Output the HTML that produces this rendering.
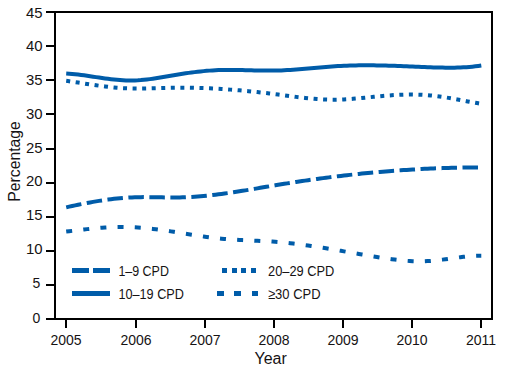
<!DOCTYPE html>
<html><head><meta charset="utf-8"><style>
html,body{margin:0;padding:0;background:#fff;width:515px;height:369px;overflow:hidden}
svg{display:block}
text{font-family:"Liberation Sans",sans-serif;font-size:14px;fill:#161314}
</style></head><body>
<svg width="515" height="369" viewBox="0 0 515 369">
<path d="M55,12 H492 V319 H46 M55,12 V319" stroke="#000" stroke-width="2" fill="none"/><path d="M46,12.00 H55" stroke="#000" stroke-width="2"/><path d="M46,46.00 H55" stroke="#000" stroke-width="2"/><path d="M46,80.00 H55" stroke="#000" stroke-width="2"/><path d="M46,114.00 H55" stroke="#000" stroke-width="2"/><path d="M46,149.00 H55" stroke="#000" stroke-width="2"/><path d="M46,183.00 H55" stroke="#000" stroke-width="2"/><path d="M46,217.00 H55" stroke="#000" stroke-width="2"/><path d="M46,251.00 H55" stroke="#000" stroke-width="2"/><path d="M46,285.00 H55" stroke="#000" stroke-width="2"/><path d="M66.00,319 V328" stroke="#000" stroke-width="2"/><path d="M136.00,319 V328" stroke="#000" stroke-width="2"/><path d="M205.00,319 V328" stroke="#000" stroke-width="2"/><path d="M274.00,319 V328" stroke="#000" stroke-width="2"/><path d="M343.00,319 V328" stroke="#000" stroke-width="2"/><path d="M412.00,319 V328" stroke="#000" stroke-width="2"/><path d="M481.00,319 V328" stroke="#000" stroke-width="2"/>

<path d="M66.20,73.47 L69.19,73.67 L72.17,73.93 L75.16,74.24 L78.15,74.58 L81.13,74.95 L84.12,75.35 L87.10,75.78 L90.09,76.21 L93.08,76.66 L96.06,77.11 L99.05,77.55 L102.04,77.99 L105.02,78.41 L108.01,78.81 L110.99,79.18 L113.98,79.52 L116.97,79.82 L119.95,80.08 L122.94,80.28 L125.93,80.43 L128.91,80.51 L131.90,80.52 L134.89,80.46 L137.87,80.32 L140.86,80.11 L143.84,79.83 L146.83,79.49 L149.82,79.11 L152.80,78.68 L155.79,78.21 L158.78,77.72 L161.76,77.22 L164.75,76.70 L167.74,76.18 L170.72,75.66 L173.71,75.16 L176.69,74.67 L179.68,74.20 L182.67,73.74 L185.65,73.30 L188.64,72.88 L191.63,72.48 L194.61,72.11 L197.60,71.75 L200.58,71.43 L203.57,71.13 L206.56,70.86 L209.54,70.62 L212.53,70.41 L215.52,70.24 L218.50,70.10 L221.49,70.00 L224.48,69.93 L227.46,69.90 L230.45,69.89 L233.43,69.91 L236.42,69.95 L239.41,70.00 L242.39,70.07 L245.38,70.14 L248.37,70.22 L251.35,70.31 L254.34,70.39 L257.33,70.46 L260.31,70.53 L263.30,70.58 L266.28,70.61 L269.27,70.62 L272.26,70.61 L275.24,70.57 L278.23,70.50 L281.22,70.39 L284.20,70.27 L287.19,70.11 L290.17,69.94 L293.16,69.74 L296.15,69.53 L299.13,69.30 L302.12,69.06 L305.11,68.81 L308.09,68.55 L311.08,68.29 L314.07,68.03 L317.05,67.76 L320.04,67.50 L323.02,67.24 L326.01,66.99 L329.00,66.75 L331.98,66.52 L334.97,66.31 L337.96,66.11 L340.94,65.94 L343.93,65.78 L346.92,65.65 L349.90,65.54 L352.89,65.45 L355.87,65.38 L358.86,65.33 L361.85,65.30 L364.83,65.29 L367.82,65.29 L370.81,65.30 L373.79,65.33 L376.78,65.38 L379.76,65.43 L382.75,65.50 L385.74,65.58 L388.72,65.66 L391.71,65.76 L394.70,65.86 L397.68,65.96 L400.67,66.08 L403.66,66.19 L406.64,66.31 L409.63,66.44 L412.61,66.56 L415.60,66.68 L418.59,66.81 L421.57,66.93 L424.56,67.05 L427.55,67.16 L430.53,67.27 L433.52,67.38 L436.51,67.47 L439.49,67.55 L442.48,67.62 L445.46,67.66 L448.45,67.69 L451.44,67.68 L454.42,67.65 L457.41,67.59 L460.40,67.49 L463.38,67.34 L466.37,67.16 L469.35,66.93 L472.34,66.65 L475.33,66.32 L478.31,65.93 L481.30,65.49" stroke="#005ca9" stroke-width="4.0" fill="none"/>
<path d="M66.20,80.84 L69.19,81.26 L72.17,81.70 L75.16,82.15 L78.15,82.60 L81.13,83.06 L84.12,83.52 L87.10,83.97 L90.09,84.42 L93.08,84.85 L96.06,85.28 L99.05,85.70 L102.04,86.09 L105.02,86.47 L108.01,86.82 L110.99,87.15 L113.98,87.45 L116.97,87.71 L119.95,87.95 L122.94,88.15 L125.93,88.30 L128.91,88.42 L131.90,88.50 L134.89,88.54 L137.87,88.56 L140.86,88.55 L143.84,88.52 L146.83,88.46 L149.82,88.40 L152.80,88.32 L155.79,88.23 L158.78,88.14 L161.76,88.05 L164.75,87.97 L167.74,87.89 L170.72,87.82 L173.71,87.76 L176.69,87.73 L179.68,87.71 L182.67,87.70 L185.65,87.71 L188.64,87.74 L191.63,87.78 L194.61,87.84 L197.60,87.91 L200.58,88.00 L203.57,88.10 L206.56,88.22 L209.54,88.35 L212.53,88.49 L215.52,88.65 L218.50,88.82 L221.49,89.00 L224.48,89.19 L227.46,89.40 L230.45,89.62 L233.43,89.85 L236.42,90.10 L239.41,90.35 L242.39,90.62 L245.38,90.89 L248.37,91.18 L251.35,91.48 L254.34,91.78 L257.33,92.10 L260.31,92.43 L263.30,92.76 L266.28,93.11 L269.27,93.46 L272.26,93.82 L275.24,94.19 L278.23,94.57 L281.22,94.95 L284.20,95.34 L287.19,95.73 L290.17,96.12 L293.16,96.50 L296.15,96.88 L299.13,97.24 L302.12,97.59 L305.11,97.93 L308.09,98.24 L311.08,98.53 L314.07,98.80 L317.05,99.03 L320.04,99.24 L323.02,99.41 L326.01,99.54 L329.00,99.63 L331.98,99.68 L334.97,99.69 L337.96,99.64 L340.94,99.55 L343.93,99.42 L346.92,99.25 L349.90,99.06 L352.89,98.83 L355.87,98.58 L358.86,98.31 L361.85,98.03 L364.83,97.73 L367.82,97.43 L370.81,97.12 L373.79,96.82 L376.78,96.52 L379.76,96.23 L382.75,95.96 L385.74,95.70 L388.72,95.46 L391.71,95.25 L394.70,95.06 L397.68,94.90 L400.67,94.76 L403.66,94.65 L406.64,94.58 L409.63,94.54 L412.61,94.54 L415.60,94.58 L418.59,94.66 L421.57,94.78 L424.56,94.95 L427.55,95.16 L430.53,95.43 L433.52,95.74 L436.51,96.10 L439.49,96.50 L442.48,96.94 L445.46,97.40 L448.45,97.90 L451.44,98.41 L454.42,98.95 L457.41,99.50 L460.40,100.05 L463.38,100.61 L466.37,101.17 L469.35,101.73 L472.34,102.27 L475.33,102.80 L478.31,103.31 L481.30,103.80" stroke="#005ca9" stroke-width="4.0" fill="none" stroke-dasharray="4 5.555"/>
<path d="M66.20,207.33 L69.19,206.66 L72.17,206.01 L75.16,205.37 L78.15,204.75 L81.13,204.14 L84.12,203.55 L87.10,202.98 L90.09,202.43 L93.08,201.90 L96.06,201.39 L99.05,200.90 L102.04,200.44 L105.02,200.01 L108.01,199.60 L110.99,199.21 L113.98,198.86 L116.97,198.54 L119.95,198.24 L122.94,197.98 L125.93,197.75 L128.91,197.56 L131.90,197.40 L134.89,197.28 L137.87,197.19 L140.86,197.14 L143.84,197.12 L146.83,197.13 L149.82,197.15 L152.80,197.19 L155.79,197.24 L158.78,197.30 L161.76,197.35 L164.75,197.40 L167.74,197.44 L170.72,197.47 L173.71,197.48 L176.69,197.46 L179.68,197.41 L182.67,197.33 L185.65,197.22 L188.64,197.08 L191.63,196.92 L194.61,196.72 L197.60,196.50 L200.58,196.26 L203.57,195.99 L206.56,195.70 L209.54,195.38 L212.53,195.05 L215.52,194.70 L218.50,194.32 L221.49,193.94 L224.48,193.53 L227.46,193.11 L230.45,192.68 L233.43,192.23 L236.42,191.78 L239.41,191.31 L242.39,190.83 L245.38,190.35 L248.37,189.86 L251.35,189.36 L254.34,188.86 L257.33,188.35 L260.31,187.84 L263.30,187.33 L266.28,186.83 L269.27,186.32 L272.26,185.81 L275.24,185.31 L278.23,184.81 L281.22,184.32 L284.20,183.83 L287.19,183.35 L290.17,182.88 L293.16,182.41 L296.15,181.95 L299.13,181.50 L302.12,181.05 L305.11,180.62 L308.09,180.18 L311.08,179.76 L314.07,179.34 L317.05,178.93 L320.04,178.53 L323.02,178.13 L326.01,177.74 L329.00,177.36 L331.98,176.98 L334.97,176.61 L337.96,176.25 L340.94,175.90 L343.93,175.55 L346.92,175.21 L349.90,174.87 L352.89,174.55 L355.87,174.23 L358.86,173.92 L361.85,173.61 L364.83,173.31 L367.82,173.02 L370.81,172.74 L373.79,172.46 L376.78,172.19 L379.76,171.93 L382.75,171.68 L385.74,171.43 L388.72,171.19 L391.71,170.95 L394.70,170.73 L397.68,170.51 L400.67,170.30 L403.66,170.09 L406.64,169.90 L409.63,169.71 L412.61,169.52 L415.60,169.35 L418.59,169.18 L421.57,169.02 L424.56,168.87 L427.55,168.72 L430.53,168.58 L433.52,168.45 L436.51,168.33 L439.49,168.21 L442.48,168.10 L445.46,168.00 L448.45,167.91 L451.44,167.82 L454.42,167.74 L457.41,167.67 L460.40,167.61 L463.38,167.55 L466.37,167.50 L469.35,167.46 L472.34,167.43 L475.33,167.40 L478.31,167.38 L481.30,167.37" stroke="#005ca9" stroke-width="4.0" fill="none" stroke-dasharray="15.5 5.5"/>
<path d="M66.20,231.60 L69.19,231.24 L72.17,230.88 L75.16,230.52 L78.15,230.16 L81.13,229.81 L84.12,229.46 L87.10,229.12 L90.09,228.80 L93.08,228.49 L96.06,228.20 L99.05,227.93 L102.04,227.69 L105.02,227.47 L108.01,227.28 L110.99,227.13 L113.98,227.01 L116.97,226.92 L119.95,226.88 L122.94,226.88 L125.93,226.93 L128.91,227.01 L131.90,227.14 L134.89,227.30 L137.87,227.49 L140.86,227.72 L143.84,227.98 L146.83,228.27 L149.82,228.58 L152.80,228.92 L155.79,229.28 L158.78,229.67 L161.76,230.07 L164.75,230.49 L167.74,230.92 L170.72,231.37 L173.71,231.82 L176.69,232.29 L179.68,232.76 L182.67,233.24 L185.65,233.72 L188.64,234.19 L191.63,234.67 L194.61,235.13 L197.60,235.59 L200.58,236.04 L203.57,236.48 L206.56,236.90 L209.54,237.30 L212.53,237.68 L215.52,238.04 L218.50,238.37 L221.49,238.68 L224.48,238.95 L227.46,239.20 L230.45,239.42 L233.43,239.62 L236.42,239.80 L239.41,239.96 L242.39,240.11 L245.38,240.25 L248.37,240.38 L251.35,240.51 L254.34,240.64 L257.33,240.77 L260.31,240.91 L263.30,241.06 L266.28,241.22 L269.27,241.39 L272.26,241.59 L275.24,241.80 L278.23,242.04 L281.22,242.31 L284.20,242.59 L287.19,242.90 L290.17,243.22 L293.16,243.56 L296.15,243.92 L299.13,244.30 L302.12,244.69 L305.11,245.10 L308.09,245.52 L311.08,245.96 L314.07,246.41 L317.05,246.87 L320.04,247.33 L323.02,247.81 L326.01,248.30 L329.00,248.79 L331.98,249.30 L334.97,249.80 L337.96,250.31 L340.94,250.83 L343.93,251.35 L346.92,251.87 L349.90,252.39 L352.89,252.91 L355.87,253.43 L358.86,253.95 L361.85,254.47 L364.83,254.98 L367.82,255.49 L370.81,255.99 L373.79,256.49 L376.78,256.98 L379.76,257.46 L382.75,257.92 L385.74,258.37 L388.72,258.81 L391.71,259.22 L394.70,259.60 L397.68,259.95 L400.67,260.28 L403.66,260.56 L406.64,260.80 L409.63,261.01 L412.61,261.16 L415.60,261.26 L418.59,261.31 L421.57,261.30 L424.56,261.24 L427.55,261.10 L430.53,260.91 L433.52,260.65 L436.51,260.35 L439.49,260.01 L442.48,259.64 L445.46,259.24 L448.45,258.83 L451.44,258.41 L454.42,258.00 L457.41,257.59 L460.40,257.21 L463.38,256.85 L466.37,256.53 L469.35,256.25 L472.34,256.03 L475.33,255.86 L478.31,255.77 L481.30,255.75" stroke="#005ca9" stroke-width="4.0" fill="none" stroke-dasharray="6 11.2"/>


<g fill="#005ca9">
<rect x="72" y="268" width="17" height="5"/><rect x="93" y="268" width="17" height="5"/>
<rect x="72" y="291" width="38" height="5"/>
<rect x="222" y="268" width="5" height="5"/><rect x="232" y="268" width="5" height="5"/><rect x="241" y="268" width="5" height="5"/><rect x="251" y="268" width="5" height="5"/>
<rect x="217" y="291" width="7" height="5"/><rect x="234" y="291" width="7" height="5"/><rect x="252" y="291" width="6" height="5"/>
</g>
<text x="118.4" y="276.3" textLength="50.5" lengthAdjust="spacingAndGlyphs" style="font-size:14.6px">1–9 CPD</text>
<text x="118.4" y="298.6" textLength="65.5" lengthAdjust="spacingAndGlyphs" style="font-size:14.6px">10–19 CPD</text>
<text x="268.0" y="276.3" textLength="66.3" lengthAdjust="spacingAndGlyphs" style="font-size:14.6px">20–29 CPD</text>
<text x="268.0" y="298.6" textLength="52.5" lengthAdjust="spacingAndGlyphs" style="font-size:14.6px">≥30 CPD</text>

<text x="42.50" y="18.00" text-anchor="end" textLength="16.60" lengthAdjust="spacingAndGlyphs">45</text><text x="42.50" y="51.13" text-anchor="end" textLength="16.60" lengthAdjust="spacingAndGlyphs">40</text><text x="42.50" y="85.06" text-anchor="end" textLength="16.60" lengthAdjust="spacingAndGlyphs">35</text><text x="42.50" y="118.99" text-anchor="end" textLength="16.60" lengthAdjust="spacingAndGlyphs">30</text><text x="42.50" y="152.92" text-anchor="end" textLength="16.60" lengthAdjust="spacingAndGlyphs">25</text><text x="42.50" y="186.45" text-anchor="end" textLength="16.60" lengthAdjust="spacingAndGlyphs">20</text><text x="42.50" y="220.08" text-anchor="end" textLength="16.60" lengthAdjust="spacingAndGlyphs">15</text><text x="42.50" y="253.91" text-anchor="end" textLength="16.60" lengthAdjust="spacingAndGlyphs">10</text><text x="40.30" y="288.04" text-anchor="end">5</text><text x="40.30" y="322.57" text-anchor="end">0</text><text x="66.00" y="345" text-anchor="middle">2005</text><text x="136.00" y="345" text-anchor="middle">2006</text><text x="205.00" y="345" text-anchor="middle">2007</text><text x="274.00" y="345" text-anchor="middle">2008</text><text x="343.00" y="345" text-anchor="middle">2009</text><text x="412.00" y="345" text-anchor="middle">2010</text><text x="481.00" y="345" text-anchor="middle">2011</text><text x="270.6" y="363.5" text-anchor="middle" style="font-size:16px">Year</text><text transform="translate(20.3,161.4) rotate(-90)" text-anchor="middle" style="font-size:16px" textLength="80.5" lengthAdjust="spacingAndGlyphs">Percentage</text>
</svg>
</body></html>
